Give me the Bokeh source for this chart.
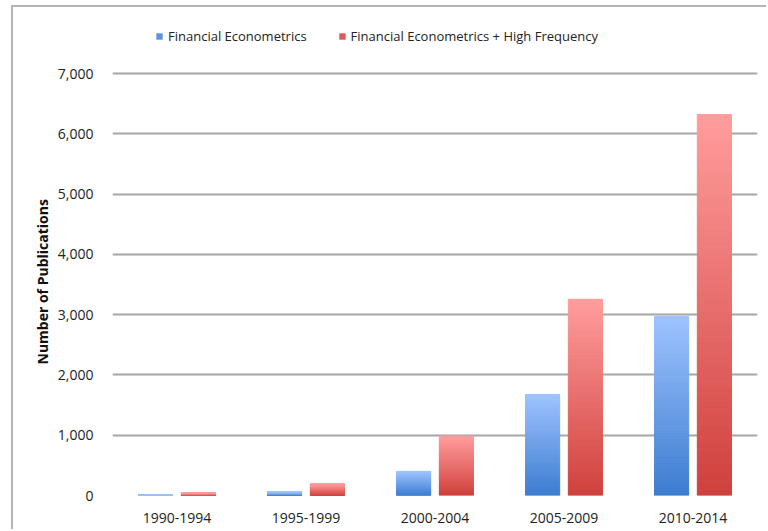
from bokeh.plotting import figure
from bokeh.models import (ColumnDataSource, FactorRange, Range1d, NumeralTickFormatter,
                          FixedTicker, Legend, LegendItem, Title)
from bokeh.transform import dodge
from bokeh.embed import file_html
from bokeh.resources import INLINE

periods = ["1990-1994", "1995-1999", "2000-2004", "2005-2009", "2010-2014"]
fin_econ = [5, 60, 400, 1675, 2970]
fin_econ_hf = [45, 195, 985, 3255, 6320]
series_names = ["Financial Econometrics", "Financial Econometrics + High Frequency"]
y_ticks = [0, 1000, 2000, 3000, 4000, 5000, 6000, 7000]
y_title = "Number of Publications"

FONT = "Open Sans"
N = 60

# layout (canvas pixels, after the 11/5 px page margin and 2 px border)
W, H = 755, 524
FRAME_L, FRAME_R, FRAME_B = 99, 744, 488
Y_TOP_TICK_PX = 66      # where 7000 sits
FRAME_T = 8             # frame extends above for the legend
y_end = 7000 * (FRAME_B - FRAME_T) / (FRAME_B - Y_TOP_TICK_PX)


def lerp(c1, c2, t):
    return "#%02x%02x%02x" % tuple(int(round(a + (b - a) * t)) for a, b in zip(c1, c2))


def gradient_source(values, bot_c, top_c):
    xs, bottoms, tops, colors = [], [], [], []
    for cat, v in zip(periods, values):
        for k in range(N):
            xs.append(cat)
            bottoms.append(v * k / N)
            tops.append(v * (k + 1) / N)
            colors.append(lerp(bot_c, top_c, (k + 0.5) / N))
    return ColumnDataSource(dict(x=xs, bottom=bottoms, top=tops, color=colors))


p = figure(x_range=FactorRange(*periods), y_range=Range1d(0, y_end),
           width=W, height=H, output_backend="svg", toolbar_location=None,
           min_border_left=FRAME_L, min_border_right=W - FRAME_R,
           min_border_top=FRAME_T, min_border_bottom=H - FRAME_B)
p.margin = (5, 0, 0, 11)
p.styles = {"border-top": "2px solid #B4B4B4", "border-left": "2px solid #B4B4B4"}

series = [
    (fin_econ, -0.166, (0x9E, 0xC3, 0xFF), (0x3C, 0x7C, 0xCF), "#5A93DE"),
    (fin_econ_hf, 0.166, (0xFF, 0x9D, 0x9C), (0xCF, 0x40, 0x3C), "#DE5A55"),
]
items = []
for (vals, off, top_c, bot_c, leg_c), name in zip(series, series_names):
    src = gradient_source(vals, bot_c, top_c)
    p.vbar(x=dodge("x", off, range=p.x_range), bottom="bottom", top="top",
           width=0.265, source=src, fill_color="color", line_color="color",
           line_width=1)
    # zero-height proxy used only for the legend swatch
    r = p.vbar(x=[periods[0]], bottom=[0], top=[0], width=0.01,
               fill_color=leg_c, line_color=None)
    items.append(LegendItem(label=name, renderers=[r]))

legend = Legend(items=items, orientation="horizontal", location=(43, 450),
                label_text_font=FONT, label_text_font_size="13px",
                label_text_color="#222222", glyph_width=8, glyph_height=8,
                label_standoff=5, spacing=31, padding=0, margin=0,
                border_line_color=None, background_fill_alpha=0)
p.add_layout(legend, "center")

# axes
p.yaxis.ticker = FixedTicker(ticks=y_ticks)
p.yaxis.formatter = NumeralTickFormatter(format="0,0")
p.yaxis.major_label_standoff = 13
for ax in (p.xaxis, p.yaxis):
    ax.axis_line_color = None
    ax.major_tick_line_color = None
    ax.minor_tick_line_color = None
    ax.major_label_text_font = FONT
    ax.major_label_text_font_size = "14px"
    ax.major_label_text_color = "#222222"
p.xaxis.major_label_standoff = 11

# y-axis title, centred on the 0-7000 span rather than the whole frame
p.add_layout(Title(text=y_title, align="left", offset=131, standoff=6,
                   text_font=FONT, text_font_style="bold",
                   text_font_size="14px", text_color="#111111"), "left")

p.xgrid.grid_line_color = None
p.ygrid.grid_line_color = "#A6A6A6"
p.ygrid.grid_line_width = 2
p.outline_line_color = None
p.background_fill_color = "white"
p.border_fill_color = "white"

open("out.html", "w").write(file_html(p, INLINE))
